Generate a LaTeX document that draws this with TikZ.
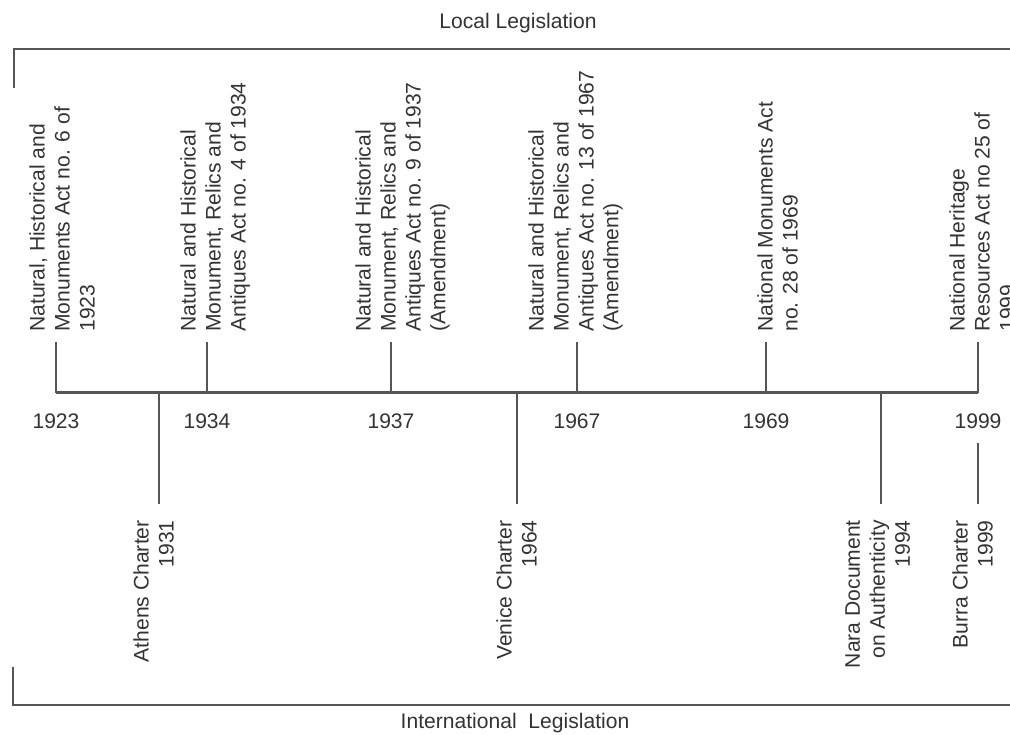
\documentclass[tikz,border=0pt]{standalone}
\usepackage{fontspec}
\setmainfont{Liberation Sans}
\definecolor{linegray}{HTML}{555555}
\definecolor{textgray}{HTML}{333333}
\begin{document}
\begin{tikzpicture}[
    font=\fontsize{12}{14.2}\selectfont, text=textgray,
    axisline/.style={draw=linegray, line width=1.6pt},
    tickline/.style={draw=linegray, line width=1pt},
    bracketline/.style={draw=linegray, line width=1pt},
    actlabel/.style={rotate=90, anchor=north west, align=left, inner sep=0pt},
    charterlabel/.style={rotate=90, anchor=north east, align=right, inner sep=0pt},
    yearlabel/.style={inner sep=0pt}
  ]
  \useasboundingbox (0,0) rectangle (20.2,14.68);

  % Local legislation bracket
  \coordinate (localL) at (0.28,12.92);
  \coordinate (localC) at (0.28,13.70);
  \coordinate (localR) at (20.2,13.70);
  \draw[bracketline] (localL) -- (localC) -- (localR);
  \node (local) at (10.36,14.22) {Local Legislation};

  % International legislation bracket
  \coordinate (intlT) at (0.26,1.34);
  \coordinate (intlC) at (0.26,0.58);
  \coordinate (intlR) at (20.2,0.58);
  \draw[bracketline] (intlT) -- (intlC) -- (intlR);
  \node (intl) at (10.30,0.22) {International\ \ Legislation};

  % Local acts above the axis
  \foreach \n/\x/\lx/\yr/\txt in {
      a/1.12/0.58/1923/{Natural, Historical and\\Monuments Act no. 6 of\\1923},
      b/4.14/3.60/1934/{Natural and Historical\\Monument, Relics and\\Antiques Act no. 4 of 1934},
      c/7.82/7.10/1937/{Natural and Historical\\Monument, Relics and\\Antiques Act no. 9 of 1937\\(Amendment)},
      d/11.54/10.56/1967/{Natural and Historical\\Monument, Relics and\\Antiques Act no. 13 of 1967\\(Amendment)},
      e/15.32/15.14/1969/{National Monuments Act\\no. 28 of 1969},
      f/19.56/18.98/1999/{National Heritage\\Resources Act no 25 of\\1999}} {
    \coordinate (base\n) at (\x,6.83);
    \coordinate (tip\n) at (\x,7.84);
    \draw[tickline] (base\n) -- (tip\n);
    \node[yearlabel] (year\n) at (\x,6.26) {\yr};
    \node[actlabel] (act\n) at (\lx,8.04) {\txt};
  }

  % Time axis
  \draw[axisline] (basea) -- (basef);

  % International charters below the axis
  \foreach \n/\x/\lx/\txt in {
      athens/3.18/2.66/{Athens Charter\\1931},
      venice/10.34/9.92/{Venice Charter\\1964},
      nara/17.62/16.90/{Nara Document\\on Authenticity\\1994}} {
    \coordinate (root\n) at (\x,6.83);
    \coordinate (foot\n) at (\x,4.60);
    \draw[tickline] (root\n) -- (foot\n);
    \node[charterlabel] (charter\n) at (\lx,4.28) {\txt};
  }

  % Burra charter, hanging under the 1999 year
  \coordinate (rootburra) at (19.56,5.82);
  \coordinate (footburra) at (19.56,4.60);
  \draw[tickline] (rootburra) -- (footburra);
  \node[charterlabel] (charterburra) at (19.04,4.28) {Burra Charter\\1999};
\end{tikzpicture}
\end{document}
